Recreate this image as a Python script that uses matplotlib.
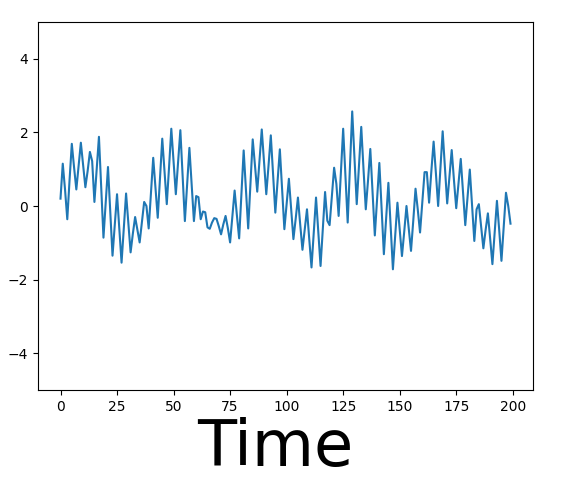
import numpy as np
import matplotlib
matplotlib.use('Agg')
import matplotlib.pyplot as plt

# values, one per time step (0..199)
signal = [
    0.20, 1.15, 0.45, -0.36, 0.70, 1.69, 1.05, 0.45, 1.10, 1.72,
    1.10, 0.51, 0.95, 1.47, 1.22, 0.11, 1.00, 1.88, 0.50, -0.86,
    0.10, 1.06, -0.15, -1.35, -0.50, 0.32, -0.60, -1.54, -0.60, 0.34,
    -0.45, -1.26, -0.75, -0.30, -0.65, -0.99, -0.45, 0.11, 0.00, -0.61,
    0.35, 1.31, 0.50, -0.32, 0.75, 1.83, 0.95, 0.05, 1.05, 2.10,
    1.20, 0.32, 1.20, 2.06, 0.80, -0.41, 0.60, 1.58, 0.60, -0.41,
    0.27, 0.24, -0.36, -0.15, -0.17, -0.58, -0.62, -0.45, -0.33, -0.35,
    -0.55, -0.77, -0.50, -0.27, -0.60, -0.99, -0.30, 0.42, -0.25, -0.88,
    0.30, 1.51, 0.45, -0.61, 0.60, 1.81, 1.10, 0.39, 1.25, 2.08,
    1.20, 0.32, 1.10, 1.92, 0.85, -0.18, 0.70, 1.54, 0.45, -0.63,
    0.05, 0.74, -0.10, -0.90, -0.35, 0.23, -0.50, -1.19, -0.65, -0.09,
    -0.90, -1.67, -0.70, 0.23, -0.70, -1.63, -0.60, 0.38, -0.40, -0.52,
    0.25, 1.04, 0.60, -0.27, 0.90, 2.10, 0.80, -0.45, 1.05, 2.57,
    1.30, 0.05, 1.10, 2.15, 1.00, -0.09, 0.70, 1.55, 0.35, -0.80,
    0.20, 1.17, -0.05, -1.31, -0.35, 0.63, -0.55, -1.72, -0.80, 0.09,
    -0.65, -1.36, -0.70, 0.00, -0.60, -1.22, -0.40, 0.47, -0.10, -0.72,
    0.10, 0.92, 0.92, 0.09, 0.95, 1.75, 0.90, 0.00, 1.00, 2.03,
    1.05, 0.07, 0.80, 1.52, 0.70, -0.06, 0.60, 1.28, 0.40, -0.52,
    0.25, 0.99, 0.00, -0.95, -0.09, 0.05, -0.55, -1.15, -0.65, -0.20,
    -0.90, -1.58, -0.70, 0.14, -0.65, -1.49, -0.55, 0.36, 0.00, -0.48,
]
t = np.arange(len(signal))

fig = plt.figure(figsize=(5.73, 4.8), dpi=100)
ax = fig.add_axes([38/573, 90/480, 495/573, 368/480])
ax.plot(t, signal, color='tab:blue', lw=1.5)
ax.set_ylim(-5, 5)

# big label under the axes, kept inside the figure
fig.text(275/573, 1/480, 'Time', fontsize=46, ha='center', va='bottom',
         color='black')

fig.savefig('out.png', dpi=100)
